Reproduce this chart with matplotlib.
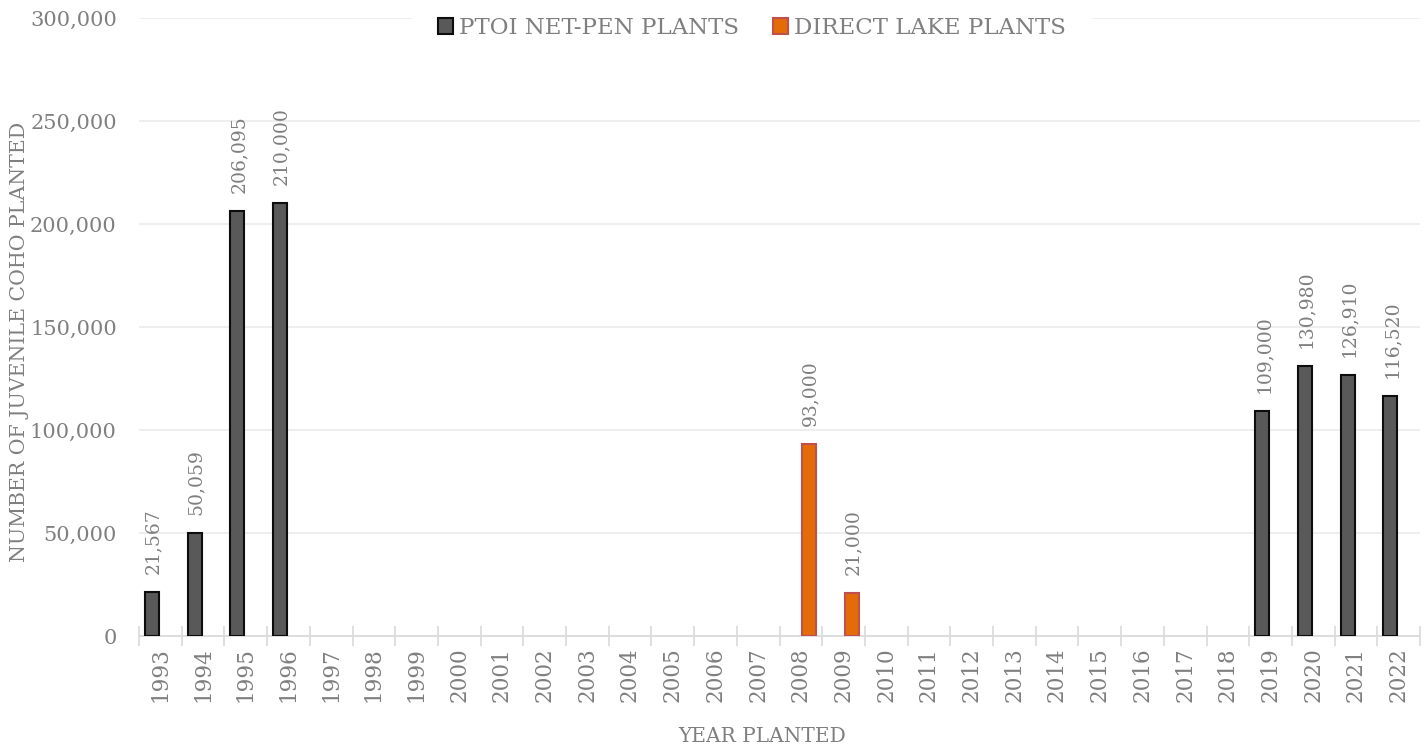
import matplotlib
matplotlib.use("Agg")
import matplotlib.pyplot as plt
import numpy as np
from matplotlib.ticker import FuncFormatter

plt.rcParams['font.family'] = ['DejaVu Serif']

years = list(range(1993, 2023))
netpen = {1993: 21567, 1994: 50059, 1995: 206095, 1996: 210000,
          2019: 109000, 2020: 130980, 2021: 126910, 2022: 116520}
direct = {2008: 93000, 2009: 21000}

netpen_vals = np.array([netpen.get(y, np.nan) for y in years], dtype=float)
direct_vals = np.array([direct.get(y, np.nan) for y in years], dtype=float)

txt_color = "#7f7f7f"
fig = plt.figure(figsize=(14.28, 7.47), dpi=100)
ax = fig.add_axes([139/1428, 1 - 636/747, (1420 - 139)/1428, (636 - 18)/747])

x = np.arange(len(years))
w = 0.33
off = 0.195
b1 = ax.bar(x - off, netpen_vals, w, color="#595959", edgecolor="#0d0d0d", linewidth=1.5,
            label="PTOI NET-PEN PLANTS", zorder=3)
b2 = ax.bar(x + off, direct_vals, w, color="#e36c09", edgecolor="#c0504d", linewidth=1.5,
            label="DIRECT LAKE PLANTS", zorder=3)

for bars, vals in ((b1, netpen_vals), (b2, direct_vals)):
    for rect, v in zip(bars, vals):
        if not np.isnan(v):
            ax.annotate(f"{int(v):,}", (rect.get_x() + rect.get_width()/2, v),
                        xytext=(1, 13), textcoords="offset points",
                        rotation=90, ha="center", va="bottom",
                        fontsize=13.5, color=txt_color)

ax.set_xlim(-0.5, len(years) - 0.5)
ax.set_ylim(0, 300000)
ax.set_yticks(np.arange(0, 300001, 50000))
ax.yaxis.set_major_formatter(FuncFormatter(lambda v, p: f"{int(v):,}"))
ax.grid(axis="y", color="#ebebeb", linewidth=1.2, zorder=0)
ax.set_axisbelow(True)

ax.set_xticks(x)
ax.set_xticklabels([str(y) for y in years], rotation=90)
ax.set_xticks(np.arange(-0.5, len(years)), minor=True)
ax.tick_params(axis="x", which="major", length=0, pad=8, labelsize=15.5, labelcolor=txt_color)
ax.tick_params(axis="x", which="minor", direction="inout", length=15, width=1.2, color="#d9d9d9")
ax.tick_params(axis="y", length=0, pad=16, labelsize=15, labelcolor=txt_color)

for s in ("top", "right", "left"):
    ax.spines[s].set_visible(False)
ax.spines["bottom"].set_color("#d9d9d9")
ax.spines["bottom"].set_linewidth(1.2)

leg = fig.legend(loc="center", bbox_to_anchor=(752/1428, 1 - 28/747), ncol=2,
                 frameon=True, facecolor="white", edgecolor="white", framealpha=1,
                 fontsize=16.5, labelcolor=txt_color, handlelength=0.65, handleheight=0.7,
                 handletextpad=0.25, columnspacing=1.5, borderpad=0.5, borderaxespad=0.0)
leg.get_frame().set_boxstyle("square", pad=0.6)

fig.text(20/1428, 1 - 342/747, "NUMBER OF JUVENILE COHO PLANTED", rotation=90,
         ha="center", va="center", fontsize=14.8, color=txt_color)
fig.text(762/1428, 1 - 736/747, "YEAR PLANTED", ha="center", va="center",
         fontsize=14.5, color=txt_color)

fig.savefig("out.png", dpi=100, facecolor="white")
